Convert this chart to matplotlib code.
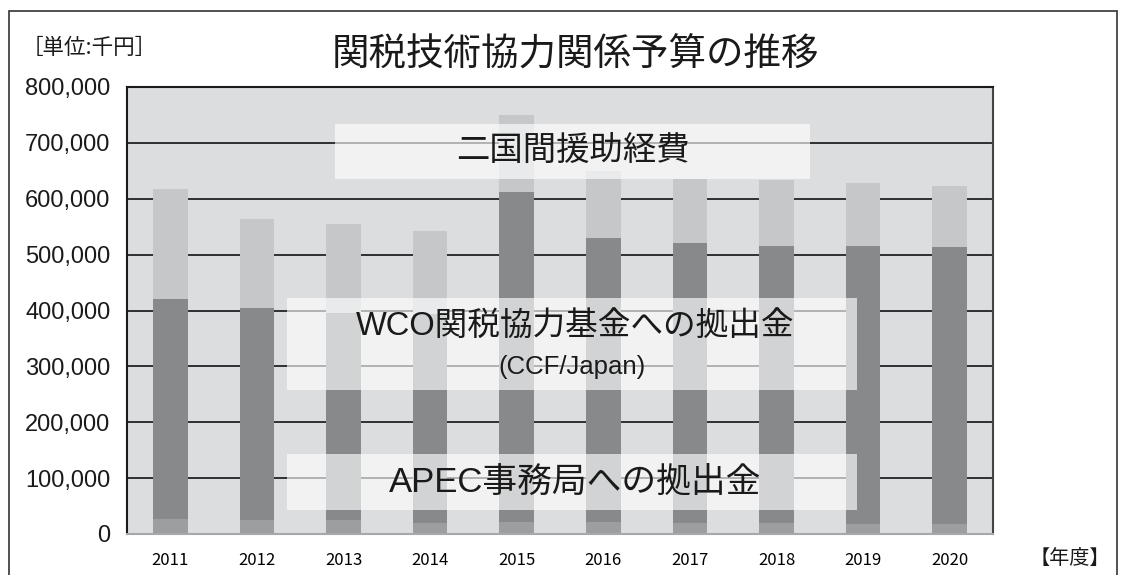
import matplotlib
matplotlib.use("Agg")
import matplotlib.pyplot as plt
from matplotlib.patches import Rectangle
from matplotlib.ticker import FuncFormatter

years = ["2011", "2012", "2013", "2014", "2015", "2016", "2017", "2018", "2019", "2020"]
apec = [27000, 25000, 25000, 20000, 21000, 22000, 20000, 19000, 18000, 18000]
wco = [393000, 380000, 370000, 373000, 591000, 507000, 500000, 496000, 497000, 495000]
bilateral = [198000, 159000, 159000, 149000, 137000, 120000, 116000, 119000, 113000, 109000]
yticks = [0, 100000, 200000, 300000, 400000, 500000, 600000, 700000, 800000]

title = "関税技術協力関係予算の推移"
unit_label = "［単位:千円］"
year_label = "【年度】"
label_bilateral = "二国間援助経費"
label_wco = "WCO関税協力基金への拠出金"
label_wco_sub = "(CCF/Japan)"
label_apec = "APEC事務局への拠出金"

FAM = ["Liberation Sans", "Noto Sans CJK JP", "DejaVu Sans"]
CJK = ["Noto Sans CJK JP", "DejaVu Sans"]
plt.rcParams["font.family"] = FAM

fig = plt.figure(figsize=(11.26, 5.75), dpi=100)
ax = fig.add_axes([127 / 1126, 41 / 575, 866 / 1126, 447 / 575])
ax.set_facecolor("#dcdddf")

x = list(range(len(years)))
w = 0.4
bottom2 = [a + b for a, b in zip(apec, wco)]
ax.bar(x, apec, width=w, color="#9d9ea0", zorder=2)
ax.bar(x, wco, width=w, bottom=apec, color="#88898b", zorder=2)
ax.bar(x, bilateral, width=w, bottom=bottom2, color="#c6c7c9", zorder=2)

ax.set_xlim(-0.5, len(years) - 0.5)
ax.set_ylim(0, 800000)
ax.set_yticks(yticks)
ax.yaxis.set_major_formatter(FuncFormatter(lambda v, p: f"{int(v):,}"))
ax.set_xticks(x)
ax.set_xticklabels(years, family=CJK, fontsize=12)
for t in ax.get_yticklabels():
    t.set_fontsize(17)
    t.set_family(["Liberation Sans", "DejaVu Sans"])
    t.set_color("#1a1a1a")
ax.tick_params(axis="y", length=0, pad=12)
ax.tick_params(axis="x", length=0, pad=13)
ax.set_axisbelow(True)
ax.yaxis.grid(True, color="#222222", linewidth=1.3, zorder=1)

for s in ["top", "left"]:
    ax.spines[s].set_color("#1a1a1a")
    ax.spines[s].set_linewidth(1.5)
ax.spines["right"].set_color("#444444")
ax.spines["right"].set_linewidth(1.5)
ax.spines["bottom"].set_color("#a8a8a8")
ax.spines["bottom"].set_linewidth(1.5)

def box(x0, x1, y0, y1):
    ax.add_patch(Rectangle((x0, y0), x1 - x0, y1 - y0, transform=ax.transAxes,
                           facecolor="white", alpha=0.63, edgecolor="none", zorder=3))

box(0.240, 0.789, 0.794, 0.917)
box(0.185, 0.843, 0.322, 0.528)
box(0.185, 0.843, 0.054, 0.179)

ax.text(0.5145, 0.855, label_bilateral, transform=ax.transAxes, ha="center", va="center",
        fontsize=24, color="#1a1a1a", zorder=4, family=FAM)
ax.text(0.518, 0.465, label_wco, transform=ax.transAxes, ha="center", va="center",
        fontsize=23.5, color="#1a1a1a", zorder=4, family=FAM)
ax.text(0.514, 0.374, label_wco_sub, transform=ax.transAxes, ha="center", va="center",
        fontsize=18.5, color="#1a1a1a", zorder=4, family=FAM)
ax.text(0.518, 0.116, label_apec, transform=ax.transAxes, ha="center", va="center",
        fontsize=25, color="#1a1a1a", zorder=4, family=FAM)

fig.text(0.511, 0.904, title, ha="center", va="center", fontsize=27, color="#1a1a1a", family=CJK)
fig.text(0.019, 0.916, unit_label, ha="left", va="center", fontsize=15.5, color="#1a1a1a", family=CJK)
fig.text(0.950, 0.029, year_label, ha="center", va="center", fontsize=14.5, color="#1a1a1a", family=CJK)

frame = Rectangle((9 / 1126, -0.05), (1117 - 9) / 1126, 1.05 - 11 / 575, transform=fig.transFigure,
                  facecolor="none", edgecolor="#333333", linewidth=1.2, clip_on=False)
fig.patches.append(frame)

fig.savefig("out.png", dpi=100)
